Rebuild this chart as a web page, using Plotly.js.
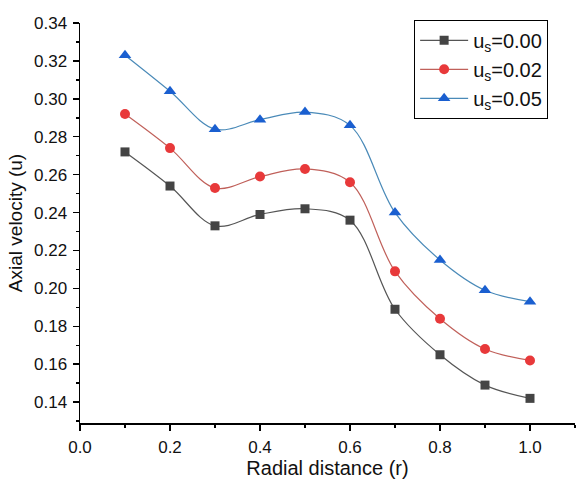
<!DOCTYPE html>
<html>
<head>
<meta charset="utf-8">
<script src="https://cdn.plot.ly/plotly-3.0.1.min.js"></script>
<style>html,body{margin:0;padding:0;background:#fff;}#chart{width:578px;height:482px;}</style>
</head>
<body>
<div id="chart"></div>
<script>
var radial = [0.1, 0.2, 0.3, 0.4, 0.5, 0.6, 0.7, 0.8, 0.9, 1.0];
var us000 = [0.272, 0.254, 0.233, 0.239, 0.242, 0.236, 0.189, 0.165, 0.149, 0.142];
var us002 = [0.292, 0.274, 0.253, 0.259, 0.263, 0.256, 0.209, 0.184, 0.168, 0.162];
var us005 = [0.323, 0.304, 0.284, 0.289, 0.293, 0.286, 0.240, 0.215, 0.199, 0.193];
var seriesNames = ['u<sub>s</sub>=0.00', 'u<sub>s</sub>=0.02', 'u<sub>s</sub>=0.05'];

var font = 'Liberation Sans, Arial, sans-serif';

function tr(y, name, lineColor, markerColor, symbol, size) {
  return {
    x: radial, y: y, name: name, type: 'scatter', mode: 'lines+markers',
    line: {shape: 'spline', smoothing: 1, color: lineColor, width: 1.2},
    marker: {symbol: symbol, size: size, color: markerColor}
  };
}

var data = [
  tr(us000, seriesNames[0], '#555555', '#444444', 'square', 9),
  tr(us002, seriesNames[1], '#c0605a', '#e8393a', 'circle', 10),
  tr(us005, seriesNames[2], '#4a8ab8', '#1a5fd0', 'triangle-up', 11)
];

var layout = {
  width: 578, height: 482,
  margin: {l: 80, r: 3, t: 23, b: 59},
  paper_bgcolor: '#ffffff', plot_bgcolor: '#ffffff',
  font: {family: font, color: '#111111', size: 17},
  showlegend: true,
  legend: {
    x: 0.675, y: 1.008, xanchor: 'left', yanchor: 'top',
    bordercolor: '#000000', borderwidth: 1, bgcolor: '#ffffff',
    font: {family: font, size: 20, color: '#111111'},
    itemwidth: 48,
    tracegroupgap: 0
  },
  xaxis: {
    range: [0, 1.1], showgrid: false, zeroline: false,
    showline: true, linecolor: '#000000', linewidth: 1.5,
    ticks: 'outside', ticklen: 6, tickwidth: 1.5, tickcolor: '#000000',
    tick0: 0, dtick: 0.2, tickformat: '.1f',
    minor: {ticks: 'outside', ticklen: 3, tickwidth: 1.5, tickcolor: '#000000', dtick: 0.1, showgrid: false},
    tickfont: {family: font, size: 17, color: '#111111'},
    ticklabelstandoff: 2,
    title: {text: 'Radial distance (r)', font: {family: font, size: 20, color: '#111111'}, standoff: 5}
  },
  yaxis: {
    range: [0.129, 0.34], showgrid: false, zeroline: false,
    showline: true, linecolor: '#000000', linewidth: 1.5,
    ticks: 'outside', ticklen: 6, tickwidth: 1.5, tickcolor: '#000000',
    tick0: 0.14, dtick: 0.02, tickformat: '.2f',
    minor: {ticks: 'outside', ticklen: 3, tickwidth: 1.5, tickcolor: '#000000', dtick: 0.01, showgrid: false},
    tickfont: {family: font, size: 17, color: '#111111'},
    ticklabelstandoff: 2,
    title: {text: 'Axial velocity (u)', font: {family: font, size: 19, color: '#111111'}, standoff: 6}
  }
};

Plotly.newPlot('chart', data, layout, {displayModeBar: false, staticPlot: true});
</script>
</body>
</html>
